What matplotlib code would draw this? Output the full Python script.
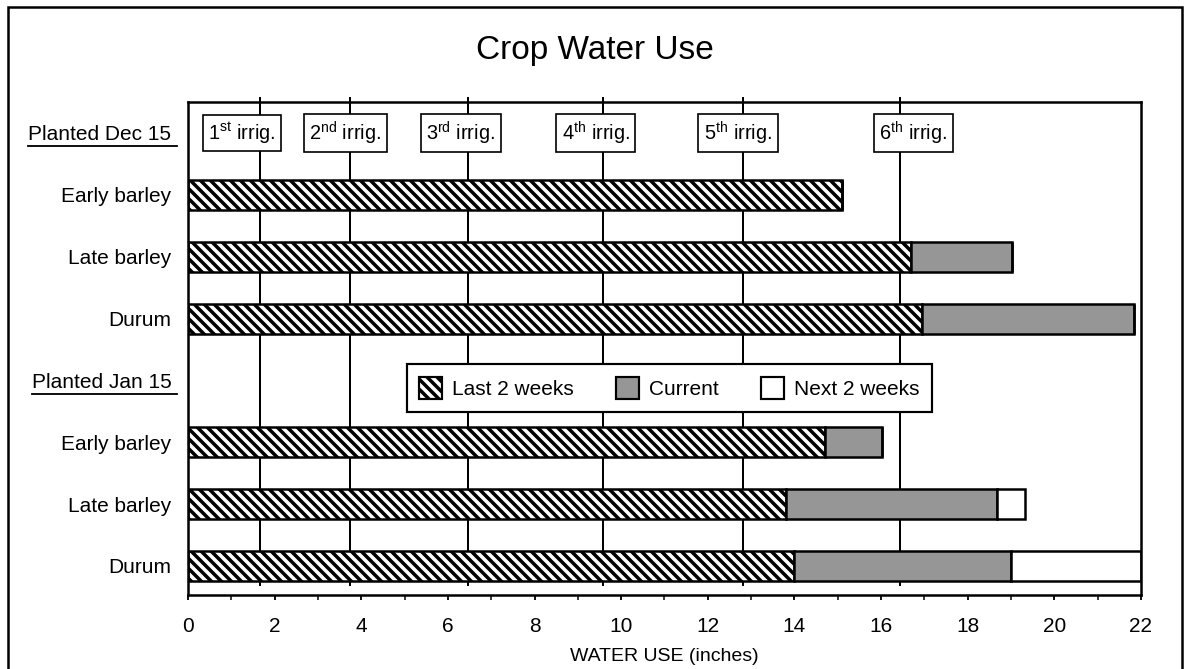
import numpy as np
import matplotlib.pyplot as plt
from matplotlib.patches import Rectangle, Patch
from matplotlib.lines import Line2D

plt.rcParams['font.family'] = ['Liberation Sans', 'DejaVu Sans']
plt.rcParams['mathtext.fontset'] = 'custom'
plt.rcParams['mathtext.rm'] = 'Liberation Sans'
plt.rcParams['mathtext.it'] = 'Liberation Sans'
plt.rcParams['hatch.linewidth'] = 2.1

# rows from top to bottom
row_labels = ['Planted Dec 15', 'Early barley', 'Late barley', 'Durum',
              'Planted Jan 15', 'Early barley', 'Late barley', 'Durum']
header_rows = [0, 4]
bar_rows = [1, 2, 3, 5, 6, 7]

# cumulative ends of each segment (inches)
last2 = [15.1, 16.7, 16.95, 14.7, 13.8, 14.0]
current = [15.1, 19.03, 21.83, 16.03, 18.67, 19.0]
next2 = [15.1, 19.03, 21.83, 16.03, 19.33, 22.0]

irrig_x = [1.66, 3.74, 6.47, 9.58, 12.82, 16.44]
irrig_labels = ['1$^{\\mathrm{st}}$ irrig.', '2$^{\\mathrm{nd}}$ irrig.', '3$^{\\mathrm{rd}}$ irrig.',
                '4$^{\\mathrm{th}}$ irrig.', '5$^{\\mathrm{th}}$ irrig.', '6$^{\\mathrm{th}}$ irrig.']
label_x = [1.25, 3.63, 6.3, 9.41, 12.7, 16.75]

gray = '#969696'

# dpi 120 so the hatch pattern gets the coarser spacing of the original
DPI = 120
fig = plt.figure(figsize=(1190 / DPI, 669 / DPI), dpi=DPI)
ax = fig.add_axes([0.158, 0.1106, 0.8008, 0.7369])

ax.set_xlim(0, 22)
ax.set_ylim(7.47, -0.5)

ax.vlines(irrig_x, 7.32, -0.58, color='black', lw=1.2, zorder=1, clip_on=False)

h = 0.485
ax.barh(bar_rows, last2, height=h, left=0, color='white', edgecolor='black',
        hatch='\\\\\\\\', lw=1.5, zorder=2)
cur = np.array(current) - np.array(last2)
ax.barh(bar_rows, cur, height=h, left=last2, color=gray, edgecolor='black', lw=1.5, zorder=2)
nxt = np.array(next2) - np.array(current)
ax.barh(bar_rows, nxt, height=h, left=current, color='white', edgecolor='black', lw=1.5, zorder=2)

for x, t in zip(label_x, irrig_labels):
    ax.text(x, 0, t, ha='center', va='center', fontsize=12, zorder=4,
            bbox=dict(boxstyle='square,pad=0.28', fc='white', ec='black', lw=1.0))

ax.set_yticks(range(len(row_labels)))
ax.set_yticklabels(row_labels, fontsize=12.5)
ax.tick_params(axis='y', length=0, pad=10)

ax.set_xticks(np.arange(0, 23, 2))
ax.set_xticks(np.arange(0, 23, 1), minor=True)
ax.tick_params(axis='x', which='major', length=3.2, width=1.1, labelsize=12.5, pad=10)
ax.tick_params(axis='x', which='minor', length=3.2, width=0.9)
ax.set_xlabel('WATER USE (inches)', fontsize=11.7, labelpad=7)

for s in ax.spines.values():
    s.set_linewidth(1.5)

handles = [Patch(fc='white', ec='black', hatch='\\\\\\\\', lw=1.3),
           Patch(fc=gray, ec='black', lw=1.3),
           Patch(fc='white', ec='black', lw=1.3)]
leg = ax.legend(handles, ['Last 2 weeks', 'Current', 'Next 2 weeks'], ncol=3,
                loc='center', bbox_to_anchor=(0.505, 0.42), fontsize=12.5,
                handlelength=1.1, handleheight=1.3, columnspacing=2.0,
                fancybox=False, edgecolor='black', framealpha=1,
                borderpad=0.6, handletextpad=0.5)
leg.get_frame().set_linewidth(1.3)
leg.set_zorder(5)

fig.text(0.5, 1 - 50 / 669, 'Crop Water Use', ha='center', va='center', fontsize=20)

# underline headers
fig.canvas.draw()
labels = ax.get_yticklabels()
for r in header_rows:
    bb = labels[r].get_window_extent()
    y = bb.y0 - 2
    fig.add_artist(Line2D([bb.x0 / 1190, (bb.x1 + 6) / 1190], [y / 669, y / 669],
                          transform=fig.transFigure, color='black', lw=1.1))

fig.add_artist(Rectangle((8 / 1190, -0.02), 1174 / 1190, 1 - 7 / 669 + 0.02,
                         transform=fig.transFigure, fill=False, ec='black', lw=1.5))

fig.savefig('out.png', dpi=DPI)
